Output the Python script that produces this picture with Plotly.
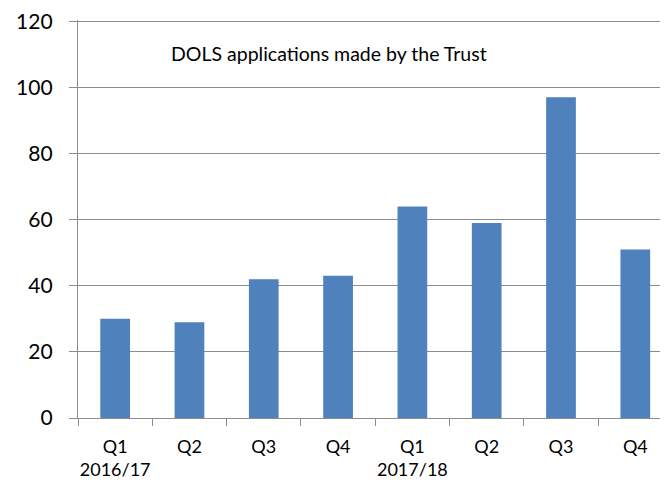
import plotly.graph_objects as go

# --- DOLS applications per quarter ---
quarter_ids = ["16Q1", "16Q2", "16Q3", "16Q4", "17Q1", "17Q2", "17Q3", "17Q4"]
quarter_labels = ["Q1<br>2016/17", "Q2", "Q3", "Q4", "Q1<br>2017/18", "Q2", "Q3", "Q4"]
applications = [30, 29, 42, 43, 64, 59, 97, 51]
y_ticks = [0, 20, 40, 60, 80, 100, 120]

GRID = "#8c8c8c"
BAR = "#4f81bd"
FONT = "Lato, 'Open Sans', sans-serif"

fig = go.Figure()
fig.add_trace(go.Bar(
    x=quarter_ids, y=applications,
    marker=dict(color=BAR, line=dict(width=0)),
    width=0.4,
    showlegend=False,
))

fig.add_annotation(
    text="DOLS applications made by the Trust",
    xref="paper", yref="paper", x=0.425, y=0.915,
    xanchor="center", yanchor="middle",
    showarrow=False, font=dict(size=19.5, color="#000000", family=FONT),
)

# page body adds an 8px offset, so the figure is sized to fill the rest
fig.update_layout(
    width=660, height=475,
    margin=dict(l=70, r=0, t=12, b=65),
    paper_bgcolor="white", plot_bgcolor="white",
    font=dict(family=FONT, color="#000000"),
    bargap=0.6,
)
fig.update_xaxes(
    type="category", tickmode="array", tickvals=quarter_ids, ticktext=quarter_labels,
    range=[-0.5, 7.44], tickson="boundaries", automargin=False, tickangle=0,
    ticks="outside", ticklen=7, tickcolor=GRID, tickwidth=1.3,
    showline=True, linecolor=GRID, linewidth=1.3,
    showgrid=False, tickfont=dict(size=18), ticklabelstandoff=12,
)
fig.update_yaxes(
    range=[0, 120.4], tickvals=y_ticks, automargin=False, ticklabeloverflow="allow",
    ticks="outside", ticklen=8, tickcolor=GRID, tickwidth=1.3,
    showline=True, linecolor=GRID, linewidth=1.3,
    showgrid=True, gridcolor=GRID, gridwidth=1.3, zeroline=False,
    tickfont=dict(size=21), ticklabelstandoff=12,
)

fig.write_html("out.html")
